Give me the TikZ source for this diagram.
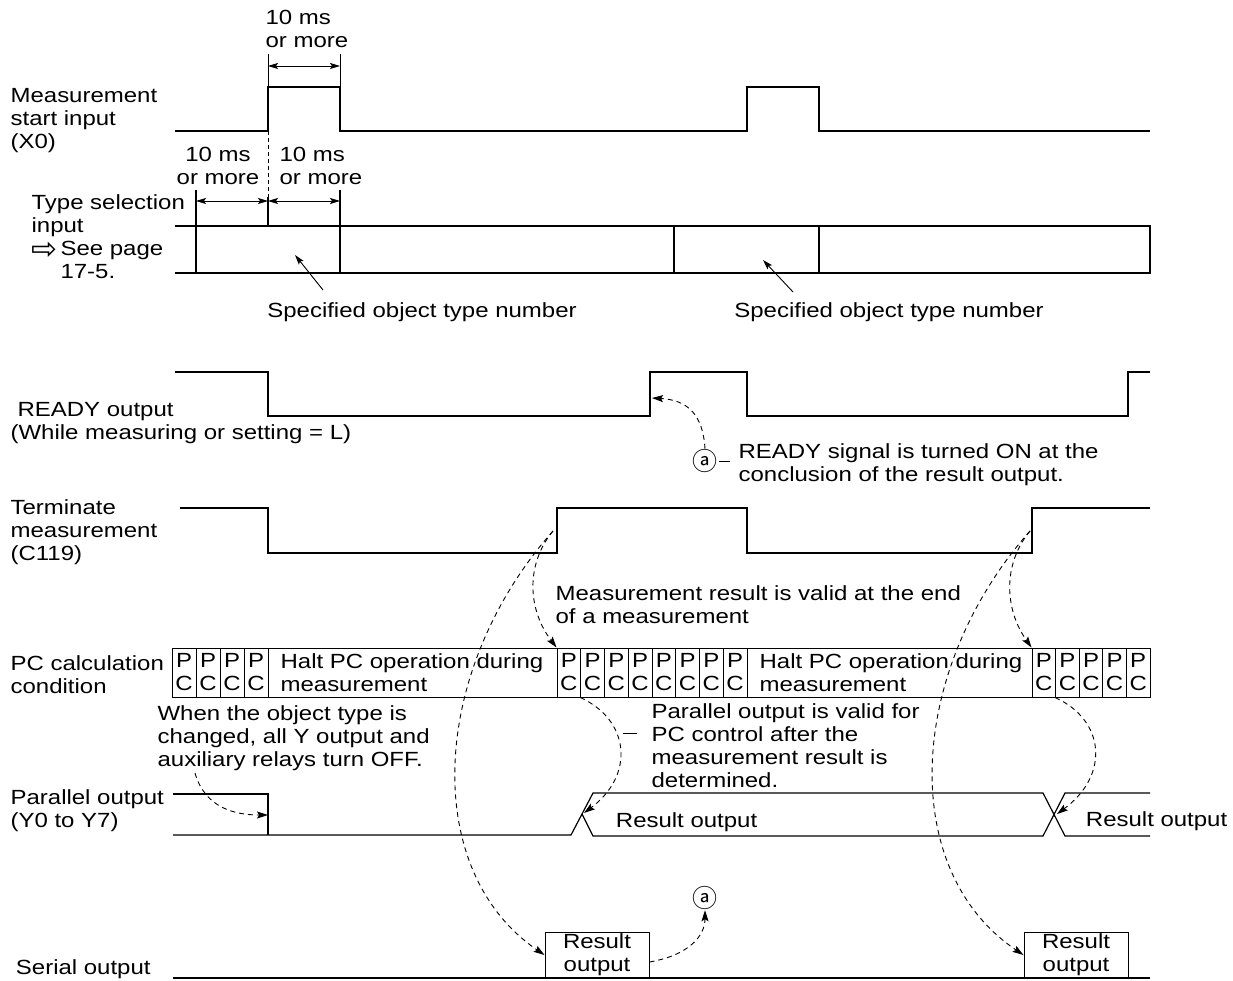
\documentclass[tikz,border=0pt]{standalone}
\usepackage{fontspec}
\setmainfont{Liberation Sans}[FakeStretch=1.17]
\newfontfamily\glyphfont{DejaVu Sans}
\newfontfamily\cjkglyph{Noto Sans CJK JP}
\usepackage{tikz}
\usetikzlibrary{arrows.meta}
\newcommand{\circa}{{\cjkglyph\fontsize{25}{25}\selectfont ⓐ}}
\newcommand{\seearrow}{\raisebox{-4pt}[0pt][0pt]{\glyphfont\fontsize{31}{23}\selectfont ⇨}\kern3pt}

\begin{document}
\begin{tikzpicture}[x=1pt,y=-1pt,line width=1.2pt,
		font=\fontsize{20.5}{23}\selectfont,
		lbl/.style={inner sep=0pt,align=left,anchor=north west},
		dim/.style={line width=0.9pt,{Stealth[length=10pt,width=6pt,inset=2pt]}-{Stealth[length=10pt,width=6pt,inset=2pt]}},
		ptr/.style={line width=0.9pt,-{Stealth[length=10pt,width=6pt,inset=2pt]}},
		note/.style={line width=0.9pt,dash pattern=on 5pt off 4pt,-{Stealth[length=11pt,width=7pt,inset=2pt]}},
		pc/.style={draw,line width=1pt,inner sep=0pt,minimum height=49pt,align=center},
		resbox/.style={draw,line width=1pt,inner sep=0pt,minimum width=104pt,minimum height=46pt,align=center}]
	\useasboundingbox (0,0) rectangle (1233,981);
	% measurement start input
	\node[lbl] (x0lbl) at (10,88) {Measurement\\start input\\(X0)};
	\draw (175,131)--(268,131)--(268,87)--(340,87)--(340,131)--(747,131)--(747,87)--(819,87)--(819,131)--(1150,131);
	\draw[line width=0.9pt] (268,87)--(268,54) (340,87)--(340,54);
	\draw[dim] (268,66)--(340,66);
	\node[lbl] (msA) at (265,10) {10 ms\\or more};
	\draw[line width=0.9pt,dash pattern=on 4pt off 3pt] (268,131)--(268,197);
	% type selection input
	\node[lbl] (tsel) at (31,194) {Type selection\\input\\\seearrow See page\\\phantom{\seearrow}17-5.};
	\draw (175,226)--(1150,226)--(1150,273)--(175,273);
	\draw (196,190)--(196,273) (340,190)--(340,273) (268,197)--(268,226);
	\foreach \x in {674,819}{\draw (\x,226)--(\x,273);}
	\draw[dim] (196,201)--(268,201);
	\draw[dim] (268,201)--(340,201);
	\node[lbl,align=center,anchor=north] (msB) at (218,147) {10 ms\\or more};
	\node[lbl] (msC) at (279,147) {10 ms\\or more};
	\node[anchor=base] (typeA) at (422,317) {Specified object type number};
	\node[anchor=base] (typeB) at (889,317) {Specified object type number};
	\coordinate (typeAtail) at (323,290);
	\coordinate (typeAtip) at (295,255);
	\coordinate (typeBtail) at (793,292);
	\coordinate (typeBtip) at (763,260);
	\draw[ptr] (typeAtail)--(typeAtip);
	\draw[ptr] (typeBtail)--(typeBtip);
	% ready output
	\node[lbl] (rdy) at (10,402) {\hspace*{7pt}READY output\\(While measuring or setting = L)};
	\draw (175,372)--(268,372)--(268,416)--(650,416)--(650,372)--(747,372)--(747,416)--(1128,416)--(1128,372)--(1150,372);
	\node[inner sep=0pt] (aA) at (705,461) {\circa};
	\draw[line width=0.9pt] ([xshift=1pt]aA.east)--++(11,0);
	\node[lbl] (rdyNote) at (738,443) {READY signal is turned ON at the\\conclusion of the result output.};
	\coordinate (rdyTip) at (652,398);
	\draw[note] (aA.north) .. controls (703,415) and (688,400) .. (rdyTip);
	% terminate measurement
	\node[lbl] (term) at (10,499) {Terminate\\measurement\\(C119)};
	\draw (180,508)--(268,508)--(268,553)--(557,553)--(557,508)--(747,508)--(747,553)--(1032,553)--(1032,508)--(1150,508);
	\node[lbl] (validNote) at (555,585) {Measurement result is valid at the end\\of a measurement};
	% pc calculation condition
	\node[lbl] (pclbl) at (10,655) {PC calculation\\condition};
	\foreach \i in {1,...,4}{\node[pc,minimum width=24pt] (pcL\i) at ({172+24*(\i-0.5)},672.5) {P\\C};}
	\node[pc,minimum width=289pt] (haltA) at (412.5,672.5) {};
	\foreach \i in {1,...,8}{\node[pc,minimum width=23.75pt] (pcM\i) at ({557+23.75*(\i-0.5)},672.5) {P\\C};}
	\node[pc,minimum width=285pt] (haltB) at (889.5,672.5) {};
	\foreach \i in {1,...,5}{\node[pc,minimum width=23.6pt] (pcR\i) at ({1032+23.6*(\i-0.5)},672.5) {P\\C};}
	\node[lbl,anchor=west] (haltTxtA) at (280,672.5) {Halt PC operation during\\measurement};
	\node[lbl,anchor=west] (haltTxtB) at (759,672.5) {Halt PC operation during\\measurement};
	\node[lbl] (offNote) at (157,705) {When the object type is\\changed, all Y output and\\auxiliary relays turn OFF.};
	\node[lbl] (parNote) at (651,703) {Parallel output is valid for\\PC control after the\\measurement result is\\determined.};
	\draw[line width=0.9pt] (623,733)--(637,733);
	% parallel output
	\node[lbl] (parlbl) at (10,789) {Parallel output\\(Y0 to Y7)};
	\draw (173,794)--(268,794)--(268,835);
	\draw (173,835)--(571,835)--(593,793)--(1043,793)--(1065,836)--(1150,836);
	\draw (582,814)--(593,836)--(1043,836)--(1065,793)--(1150,793);
	\node[anchor=base west] (resParA) at (612,827) {Result output};
	\node[anchor=base west] (resParB) at (1082,826) {Result output};
	% serial output
	\node[anchor=base west] (serlbl) at (12,974) {Serial output};
	\draw (173,978)--(1150,978);
	\node[resbox] (resA) at (597,955) {Result\\output};
	\node[resbox] (resB) at (1076,955) {Result\\output};
	\node[inner sep=0pt] (aB) at (705,898) {\circa};
	% dashed pointers
	\coordinate (tmA) at (553,531);
	\coordinate (tmB) at (1030,531);
	\coordinate (pxA) at (584,813);
	\coordinate (pxB) at (1057,814);
	\coordinate (offTail) at (195,773);
	\coordinate (offTip) at (268,815);
	\draw[note] (tmA) .. controls (525,565) and (528,610) .. (pcM1.north west);
	\draw[note] (tmA) .. controls (430,670) and (420,870) .. (resA.west);
	\draw[note] (tmB) .. controls (1002,565) and (1005,610) .. (pcR1.north west);
	\draw[note] (tmB) .. controls (907,670) and (897,870) .. (resB.west);
	\draw[note] (pcM2.south west) .. controls (630,720) and (635,775) .. (pxA);
	\draw[note] (pcR2.south west) .. controls (1105,720) and (1110,775) .. (pxB);
	\draw[note] (offTail) .. controls (205,808) and (235,815) .. (offTip);
	\draw[note] ([yshift=-7pt]resA.east) .. controls (690,955) and (705,935) .. (aB.south);
\end{tikzpicture}
\end{document}
